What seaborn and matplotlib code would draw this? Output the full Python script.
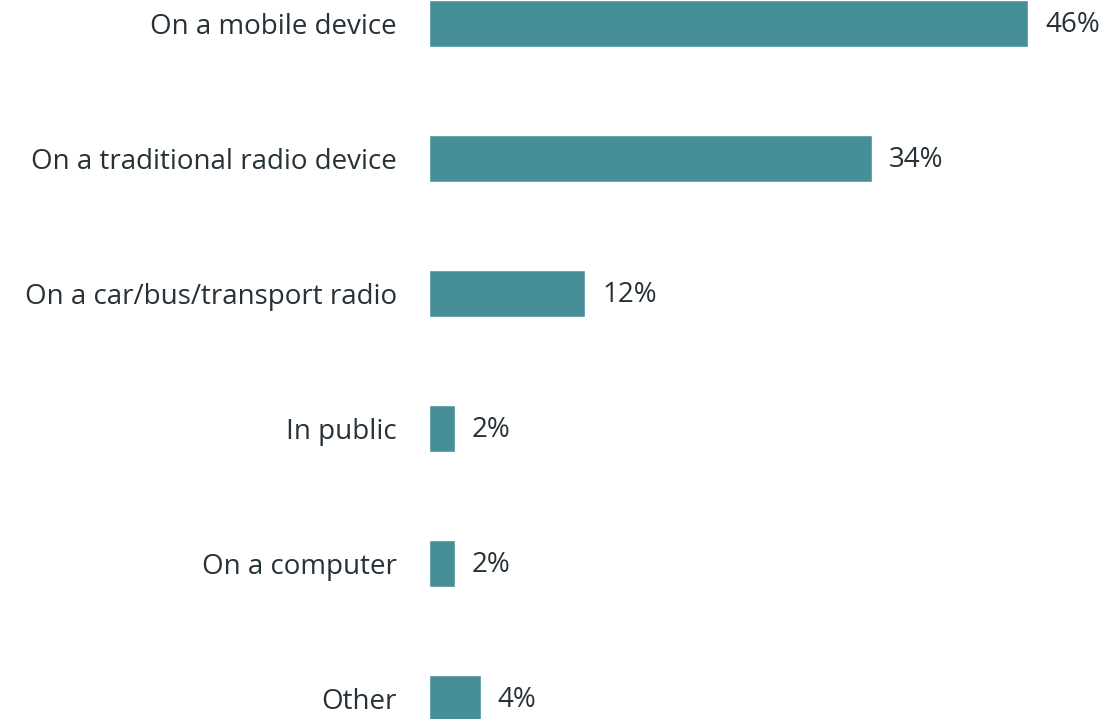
import matplotlib
matplotlib.use("Agg")
import matplotlib.pyplot as plt
import seaborn as sns
import pandas as pd

categories = [
    "On a mobile device",
    "On a traditional radio device",
    "On a car/bus/transport radio",
    "In public",
    "On a computer",
    "Other",
]
shares = [46, 34, 12, 2, 2, 4]
value_labels = ["46%", "34%", "12%", "2%", "2%", "4%"]

sns.set_theme(style="white")
plt.rcParams["font.family"] = ["Open Sans", "DejaVu Sans"]

BAR_COLOR = "#468f98"
TEXT_COLOR = "#263238"
FONT_SIZE = 20

df = pd.DataFrame({"where": categories, "share": shares})

W, H = 1102, 719
fig = plt.figure(figsize=(W / 100, H / 100), dpi=100)
ax = fig.add_axes([429 / W, 0, 1 - 429 / W, 1])

sns.barplot(data=df, y="where", x="share", orient="h", color=BAR_COLOR,
            saturation=1, width=0.348, ax=ax)

px_per_unit = 13.03
ax.set_xlim(0, (W - 429) / px_per_unit)
ax.set_ylim(5 + 20.5 / 135, -23.5 / 135)

for i, (v, lab) in enumerate(zip(shares, value_labels)):
    ax.annotate(lab, xy=(v, i), xytext=(12, -1), textcoords="offset points",
                va="center", ha="left", fontsize=FONT_SIZE, color=TEXT_COLOR)

ax.set_xlabel("")
ax.set_ylabel("")
ax.set_xticks([])
ax.tick_params(axis="y", length=0, pad=23, labelsize=FONT_SIZE,
               labelcolor=TEXT_COLOR)
for s in ax.spines.values():
    s.set_visible(False)

fig.savefig("out.png", dpi=100)
